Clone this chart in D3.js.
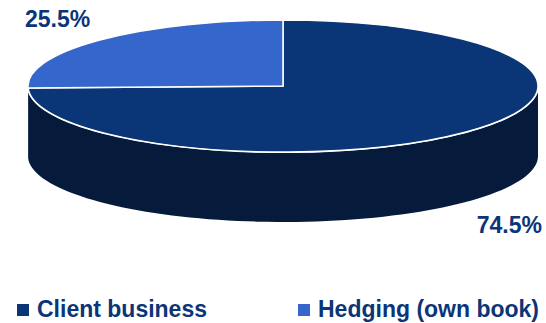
<!DOCTYPE html>
<html>
<head>
<meta charset="utf-8">
<script src="https://cdn.jsdelivr.net/npm/d3@7"></script>
<style>
  html, body { margin: 0; padding: 0; background: #ffffff; }
  svg text { font-family: "Liberation Sans", Arial, sans-serif; font-weight: bold; }
</style>
</head>
<body>
<div id="chart"></div>
<script>
//
// 3D pie chart: client business vs hedging
//

var categories = ["Client business", "Hedging (own book)"];
var shares = [74.5, 25.5];
var labels = ["74.5%", "25.5%"];

var topColors = ["#0a3577", "#3566cb"];
var sideColors = ["#061b3c", "#1c3a7a"];
var textColor = "#0b3577";

function drawPie3D(divName, width, height) {

    var cx = 283;       // centre of top ellipse
    var cy = 86;
    var rx = 255;
    var ry = 66;
    var depth = 70;

    d3.select("#" + divName).selectAll("svg").remove();

    var svg = d3.select("#" + divName)
        .append("svg")
        .attr("width", width)
        .attr("height", height);

    var pie = d3.pie().sort(null).value(function (d) { return d; });
    var arcs = pie(shares);

    function pt(a, dy) {
        return [cx + rx * Math.sin(a), cy - ry * Math.cos(a) + dy];
    }

    // side wall, only the front half (pi/2 .. 3pi/2) is visible
    var line = d3.line();
    var sides = svg.append("g");
    arcs.forEach(function (d, i) {
        var a0 = Math.max(d.startAngle, Math.PI / 2);
        var a1 = Math.min(d.endAngle, Math.PI * 3 / 2);
        if (a1 <= a0) return;
        var n = 80, pts = [], k;
        for (k = 0; k <= n; k++) pts.push(pt(a0 + (a1 - a0) * k / n, 0));
        for (k = n; k >= 0; k--) pts.push(pt(a0 + (a1 - a0) * k / n, depth));
        sides.append("path")
            .attr("d", line(pts) + "Z")
            .attr("fill", sideColors[i]);
    });

    // white rim between top and side
    var rim = [];
    for (var k = 0; k <= 120; k++) rim.push(pt(Math.PI / 2 + Math.PI * k / 120, 0));
    svg.append("path")
        .attr("d", line(rim))
        .attr("fill", "none")
        .attr("stroke", "#ffffff")
        .attr("stroke-width", 2);

    // top face, circular arcs squashed into an ellipse
    var arc = d3.arc().innerRadius(0).outerRadius(rx);
    svg.append("g")
        .attr("transform", "translate(" + cx + "," + cy + ") scale(1," + (ry / rx) + ")")
        .selectAll("path")
        .data(arcs)
        .enter()
        .append("path")
        .attr("d", arc)
        .attr("fill", function (d, i) { return topColors[i]; })
        .attr("stroke", "#ffffff")
        .attr("stroke-width", 1.5)
        .attr("vector-effect", "non-scaling-stroke");

    // percentage labels
    svg.append("text")
        .attr("x", 542)
        .attr("y", 233)
        .attr("text-anchor", "end")
        .attr("fill", textColor)
        .style("font-size", "23px")
        .text(labels[0]);

    svg.append("text")
        .attr("x", 25)
        .attr("y", 27)
        .attr("text-anchor", "start")
        .attr("fill", textColor)
        .style("font-size", "23px")
        .text(labels[1]);

    // legend
    var legendX = [17, 298];
    var legend = svg.selectAll(".legend")
        .data(categories)
        .enter().append("g")
        .attr("class", "legend")
        .attr("transform", function (d, i) { return "translate(" + legendX[i] + ",304)"; });

    legend.append("rect")
        .attr("width", 12)
        .attr("height", 12)
        .attr("fill", function (d, i) { return topColors[i]; });

    legend.append("text")
        .attr("x", 20)
        .attr("y", 13)
        .attr("fill", textColor)
        .style("font-size", "23px")
        .text(function (d) { return d; });

    return svg;
}

drawPie3D("chart", 546, 323);
</script>
</body>
</html>
